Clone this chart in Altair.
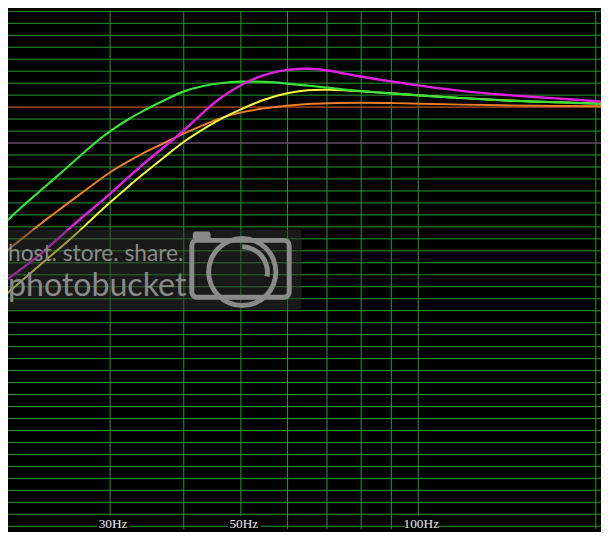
import math
import altair as alt
import pandas as pd

# ---------------- data ----------------
FREQ_HZ = [19.5, 21, 22, 23, 24, 25, 26, 27, 28, 30, 32, 34, 36, 38, 40, 43, 46,
           50, 55, 60, 65, 70, 80, 90, 100, 120, 140, 160, 180, 205]
GREEN_DB = [-10.03, -8.56, -7.67, -6.85, -6.07, -5.31, -4.55, -3.85, -3.15, -1.98,
            -1.10, -0.35, 0.26, 0.83, 1.35, 1.78, 2.01, 2.15, 2.13, 1.96, 1.80,
            1.64, 1.32, 1.14, 0.98, 0.73, 0.54, 0.45, 0.37, 0.28]
MAGENTA_DB = [-14.84, -13.67, -12.93, -12.18, -11.36, -10.57, -9.82, -9.15, -8.48,
              -7.25, -5.98, -4.83, -3.82, -2.87, -1.97, -0.50, 0.76, 1.89, 2.79,
              3.15, 3.24, 3.12, 2.52, 2.14, 1.81, 1.29, 1.02, 0.82, 0.66, 0.46]
YELLOW_DB = [-16.08, -14.72, -13.85, -13.02, -12.26, -11.51, -10.78, -10.04, -9.31,
             -7.94, -6.75, -5.65, -4.67, -3.75, -2.87, -1.88, -1.01, -0.17, 0.69,
             1.21, 1.44, 1.48, 1.33, 1.15, 0.99, 0.74, 0.55, 0.45, 0.38, 0.29]
ORANGE_DB = [-12.45, -11.20, -10.40, -9.64, -8.96, -8.30, -7.68, -7.09, -6.50,
             -5.41, -4.61, -3.88, -3.29, -2.73, -2.20, -1.53, -0.92, -0.41, -0.08,
             0.13, 0.28, 0.33, 0.38, 0.34, 0.30, 0.20, 0.15, 0.10, 0.09, 0.07]

SERIES = [("orange", ORANGE_DB, "#f07d28", 2.0),
          ("yellow", YELLOW_DB, "#f8f83c", 2.0),
          ("green", GREEN_DB, "#3ae03a", 2.2),
          ("magenta", MAGENTA_DB, "#e020e0", 2.4)]

VGRID_HZ = [20, 30, 40, 50, 60, 70, 80, 90, 100, 200]
HGRID_DB = [-35, -34, -33, -32, -31, -30, -29, -28, -27, -26, -25, -24, -23, -22,
            -21, -20, -19, -18, -17, -16, -15, -14, -13, -12, -11, -10, -9, -8,
            -7, -6, -5, -4, -3, -2, -1, 0, 1, 2, 3, 4, 5, 6, 7, 8]
REF_DB = [0, -3]
REF_COLOR = ["#d42020", "#8a228a"]

LABEL_HZ = [30, 50, 100]
LABEL_TEXT = ["30Hz", "50Hz", "100Hz"]

WATERMARK_TEXT = ["host. store. share.", "photobucket"]

# ---------------- chart ----------------
W, H = 600, 524
xs = alt.Scale(type="log", domain=[20.131, 204.13], nice=False)
ys = alt.Scale(domain=[-35.226, 8.022], nice=False, zero=False)

vgrid = alt.Chart(pd.DataFrame({"f": VGRID_HZ})).mark_rule(
    color="#249a2a", strokeWidth=1).encode(x=alt.X("f:Q", scale=xs, axis=None))
hgrid = alt.Chart(pd.DataFrame({"d": HGRID_DB})).mark_rule(
    color="#249a2a", strokeWidth=1).encode(y=alt.Y("d:Q", scale=ys, axis=None))
refl = alt.Chart(pd.DataFrame({"d": REF_DB, "c": REF_COLOR})).mark_rule(
    strokeWidth=1).encode(y=alt.Y("d:Q", scale=ys, axis=None),
                          color=alt.Color("c:N", scale=None))

curves = []
for name, vals, col, sw in SERIES:
    df = pd.DataFrame({"freq": FREQ_HZ, "db": vals})
    curves.append(alt.Chart(df).mark_line(
        color=col, strokeWidth=sw, interpolate="basis", clip=True).encode(
        x=alt.X("freq:Q", scale=xs, axis=None),
        y=alt.Y("db:Q", scale=ys, axis=None)))

one = pd.DataFrame({"a": [0]})
wm_col = "#8a8a8a"
wm_box = alt.Chart(one).mark_rect(color="#383838", opacity=0.45, cornerRadius=3).encode(
    x=alt.value(-6), x2=alt.value(297), y=alt.value(221), y2=alt.value(302))
wm_t1 = alt.Chart(one).mark_text(
    text=WATERMARK_TEXT[0], font="Lato", fontSize=23, color=wm_col,
    align="left", baseline="alphabetic").encode(x=alt.value(0), y=alt.value(253))
wm_t2 = alt.Chart(one).mark_text(
    text=WATERMARK_TEXT[1], font="Lato", fontSize=32.5, color=wm_col,
    align="left", baseline="alphabetic").encode(x=alt.value(0), y=alt.value(288.5))
cam_body = alt.Chart(one).mark_rect(
    filled=False, stroke=wm_col, strokeWidth=5, cornerRadius=5).encode(
    x=alt.value(186), x2=alt.value(284.5), y=alt.value(232), y2=alt.value(289.5))
cam_bump = alt.Chart(one).mark_rect(color=wm_col, cornerRadius=3).encode(
    x=alt.value(187), x2=alt.value(205), y=alt.value(223), y2=alt.value(232))
cam_ring = alt.Chart(one).mark_arc(
    radius=36.5, radius2=31.5, theta=0, theta2=2 * math.pi, color=wm_col).encode(
    x=alt.value(237), y=alt.value(264))
cam_arc = alt.Chart(one).mark_arc(
    radius=28, radius2=23, theta=0, theta2=1.75, color=wm_col).encode(
    x=alt.value(237), y=alt.value(264))

lab_df = pd.DataFrame({"f": LABEL_HZ, "t": LABEL_TEXT})
lab_box = alt.Chart(lab_df).mark_rect(color="black", xOffset=-13, x2Offset=20).encode(
    x=alt.X("f:Q", scale=xs, axis=None), x2="f:Q",
    y=alt.value(511), y2=alt.value(524))
lab_txt = alt.Chart(lab_df).mark_text(
    font="Liberation Serif", fontSize=13.5, color="#ececec",
    align="center", baseline="alphabetic", dx=3).encode(
    x=alt.X("f:Q", scale=xs, axis=None), y=alt.value(523), text="t:N")

chart = alt.layer(
    vgrid, hgrid, refl, *curves, wm_box, wm_t1, wm_t2,
    cam_body, cam_bump, cam_ring, cam_arc, lab_box, lab_txt
).properties(
    width=W, height=H, padding=0,
    autosize=alt.AutoSizeParams(type="none"),
    background="black",
).configure_view(strokeWidth=0)

chart.save("out.html", embed_options={"renderer": "svg", "actions": False})
